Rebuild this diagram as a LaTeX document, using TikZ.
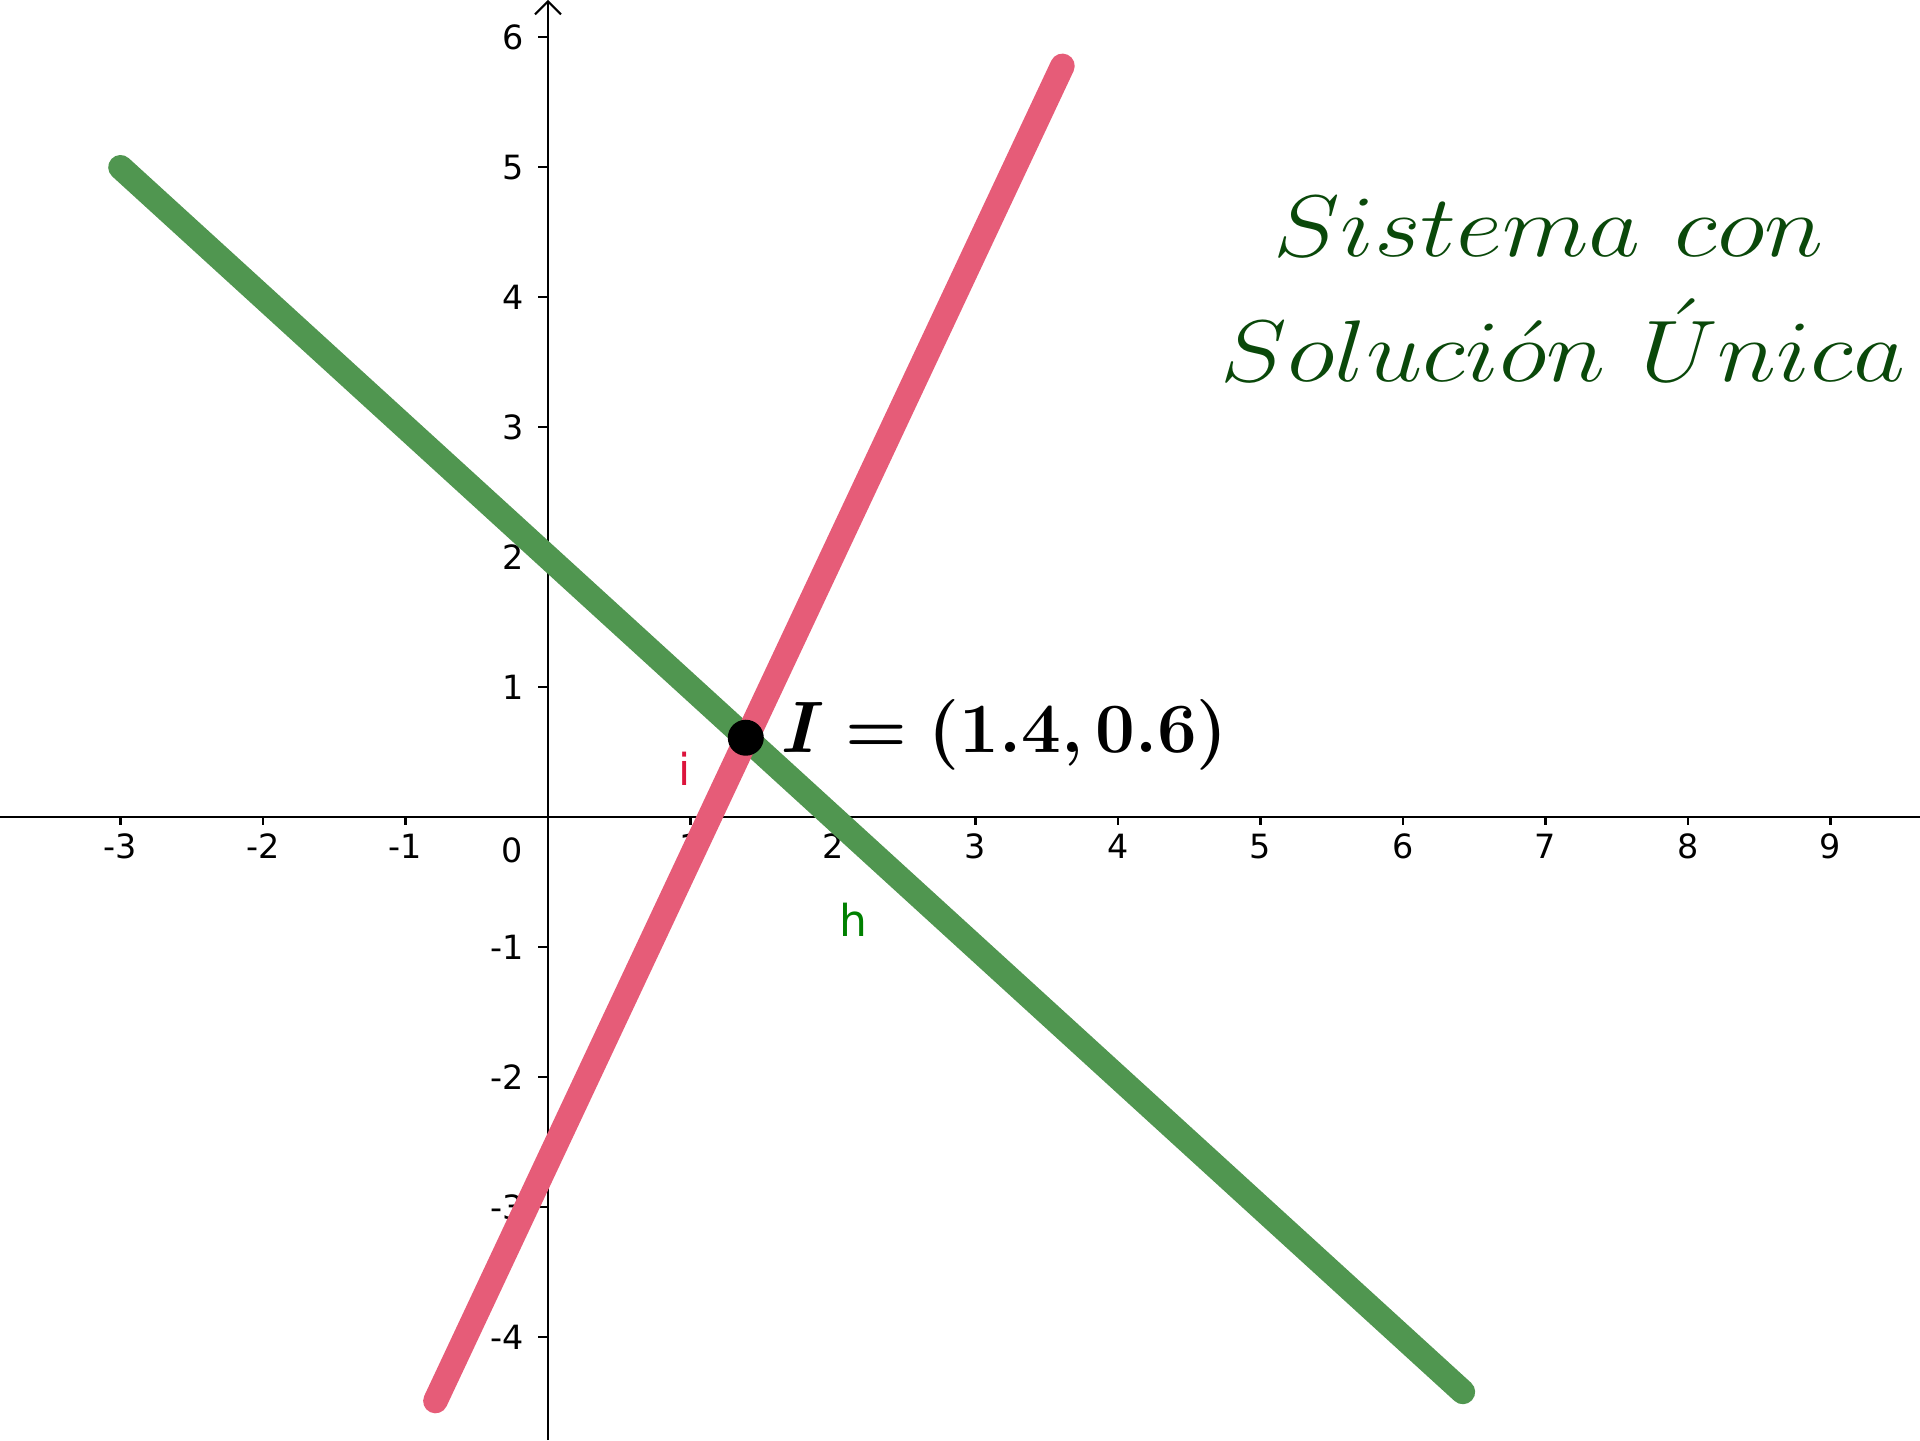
\documentclass[tikz,border=0pt]{standalone}
\usepackage{fontspec}
\newfontfamily\ggsans{DejaVu Sans}
\usetikzlibrary{arrows.meta}
\DeclareMathAlphabet{\mathbit}{OML}{cmm}{b}{it}
\definecolor{hgreen}{RGB}{80,150,80}
\definecolor{ipink}{RGB}{230,92,120}
\definecolor{ilab}{RGB}{220,20,60}
\definecolor{hlab}{RGB}{0,128,0}
\definecolor{titlegreen}{RGB}{10,72,10}
\newcommand{\pointlabeltext}{$\mathbit{I}$\hspace{0.3em}\textbf{=}\hspace{0.3em}\textbf{(1.4,\,0.6)}}
\newcommand{\titlelineone}{\scalebox{1.155}[1]{$Sistema\ con$}}
\newcommand{\titlelinetwo}{\scalebox{1.155}[1]{$Soluci\acute{o}n\ \acute{U}nica$}}
\tikzset{
  axisline/.style={line width=0.6pt, black},
  tickline/.style={line width=0.6pt, black},
  ticklab/.style={font=\ggsans\fontsize{9.5}{11}\selectfont, inner sep=0pt, text=black},
  graphline/.style={line width=7pt, line cap=round},
  ptdot/.style={circle, fill=black, minimum size=0.36cm, inner sep=0pt},
  ptlabel/.style={inner sep=0pt, anchor=base west, font=\fontsize{20.1}{24}\selectfont},
  titletext/.style={text=titlegreen, inner sep=0pt, anchor=base, font=\fontsize{28}{34}\selectfont},
  objlab/.style={font=\ggsans\fontsize{12.5}{14}\selectfont, inner sep=0pt}
}
\begin{document}
\begin{tikzpicture}[x=1.425cm,y=1.3cm]
\useasboundingbox (-3.8456,-4.7900) rectangle (9.6281,6.2869);
% axes
\coordinate (xa0) at (-3.8456,0);
\coordinate (xa1) at (9.6281,0);
\coordinate (ya0) at (0,-4.7900);
\coordinate (ya1) at (0,6.2869);
\draw[axisline] (xa0) -- (xa1);
\draw[axisline, -{Straight Barb[length=1.3mm,width=2.6mm]}] (ya0) -- (ya1);
% x ticks
\foreach \k [count=\i] in {-3,-2,-1,1,2,3,4,5,6,7,8,9} {
  \draw[tickline] (\k,0) -- (\k,-0.06);
  \node[ticklab, anchor=north] (xl\i) at (\k,-0.121) {\k};
}
% y ticks
\foreach \k [count=\i] in {-4,-3,-2,-1,1,2,3,4,5,6} {
  \draw[tickline] (0,\k) -- (-0.07,\k);
  \node[ticklab, anchor=east] (yl\i) at (-0.168,\k) {\k};
}
\node[ticklab, anchor=north east] (zero) at (-0.175,-0.15) {0};
% lines
\coordinate (h0) at (-3,5);
\coordinate (h1) at (6.42,-4.42);
\coordinate (i0) at (-0.79,-4.49);
\coordinate (i1) at (3.61,5.78);
\draw[graphline, hgreen] (h0) -- (h1);
\draw[graphline, ipink] (i0) -- (i1);
% intersection point
\node[ptdot] (ptI) at (1.388,0.612) {};
\node[ptlabel] (ptIlab) at (1.635,0.502) {\pointlabeltext};
% object labels
\node[objlab, text=ilab] (ilabel) at (0.958,0.37) {i};
\node[objlab, text=hlab] (hlabel) at (2.14,-0.79) {h};
% title
\node[titletext] (t1) at (7.025,4.310) {\titlelineone};
\node[titletext] (t2) at (7.123,3.349) {\titlelinetwo};
\end{tikzpicture}
\end{document}
